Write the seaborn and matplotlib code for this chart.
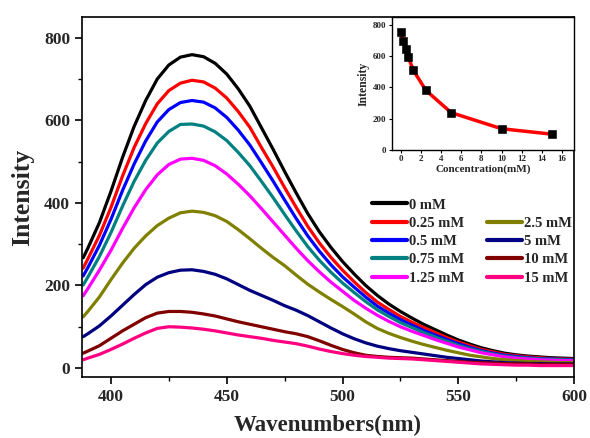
import numpy as np
import pandas as pd
import matplotlib
matplotlib.use("Agg")
import matplotlib.pyplot as plt
from matplotlib.lines import Line2D
from matplotlib.ticker import MultipleLocator
import seaborn as sns

wavelengths = [388, 390, 395, 400, 405, 410, 415, 420, 425, 430, 435, 440, 445, 450, 455,
               460, 465, 470, 475, 480, 485, 490, 495, 500, 505, 510, 515, 520, 525, 530,
               535, 540, 545, 550, 555, 560, 565, 570, 575, 580, 585, 590, 595, 600]

labels = ["0 mM", "0.25 mM", "0.5 mM", "0.75 mM", "1.25 mM", "2.5 mM", "5 mM", "10 mM", "15 mM"]
colors = ["#000000", "#FF0000", "#0000FF", "#008080", "#FF00FF", "#808000", "#000080", "#800000", "#FF0080"]

c0 = [267, 290, 352, 428, 510, 585, 648, 700, 734, 753,
      759, 754, 738, 712, 676, 634, 582, 530, 476, 424,
      374, 330, 292, 258, 228, 200, 176, 155, 137, 121,
      106, 93, 80, 68, 58, 49, 42, 36, 32, 29,
      27, 25, 24, 23]
c025 = [242, 264, 321, 389, 465, 534, 592, 640, 672, 690,
        697, 693, 678, 654, 621, 583, 534, 487, 437, 389,
        343, 303, 268, 237, 209, 183, 160, 142, 125, 111,
        98, 86, 74, 63, 54, 45, 39, 33, 30, 27,
        25, 23, 22, 21]
c05 = [223, 243, 297, 360, 430, 494, 550, 596, 626, 643,
       648, 644, 630, 607, 576, 540, 497, 453, 407, 362,
       320, 283, 250, 221, 196, 172, 150, 133, 117, 104,
       91, 80, 69, 59, 50, 42, 36, 31, 28, 25,
       23, 22, 21, 20]
c075 = [201, 220, 270, 328, 392, 452, 503, 545, 573, 590,
        591, 586, 572, 551, 522, 490, 452, 413, 372, 332,
        294, 261, 232, 206, 183, 161, 141, 125, 110, 98,
        86, 75, 65, 55, 47, 40, 34, 29, 26, 24,
        22, 21, 20, 19]
c125 = [175, 192, 237, 285, 338, 388, 432, 468, 493, 506,
        508, 503, 490, 470, 445, 417, 386, 354, 322, 290,
        260, 233, 208, 186, 164, 145, 128, 113, 100, 89,
        79, 69, 60, 51, 44, 37, 32, 27, 24, 22,
        20, 19, 18, 18]
c25 = [124, 137, 172, 214, 254, 290, 320, 345, 363, 376,
       380, 377, 369, 355, 335, 313, 290, 268, 248, 225,
       203, 184, 166, 149, 131, 112, 96, 84, 74, 65,
       57, 50, 43, 37, 31, 27, 23, 20, 18, 16,
       15, 14, 13, 13]
c5 = [76, 83, 102, 126, 152, 178, 202, 220, 231, 237,
      238, 234, 227, 216, 202, 188, 176, 164, 151, 140,
      127, 112, 97, 83, 71, 61, 53, 47, 42, 38,
      34, 30, 26, 23, 20, 17, 15, 13, 12, 11,
      11, 10, 10, 10]
c10 = [36, 41, 54, 72, 90, 106, 122, 133, 137, 137,
       135, 131, 126, 119, 112, 106, 100, 94, 88, 83,
       76, 66, 55, 45, 37, 31, 28, 26, 25, 24,
       22, 20, 18, 16, 14, 13, 12, 11, 10, 10,
       9, 9, 9, 9]
c15 = [20, 24, 33, 45, 58, 72, 85, 96, 100, 99,
       97, 94, 90, 85, 80, 76, 72, 67, 63, 59,
       53, 46, 40, 35, 31, 28, 26, 24, 23, 22,
       20, 18, 16, 14, 12, 10, 9, 8, 7, 7,
       6, 6, 6, 6]
series = [c0, c025, c05, c075, c125, c25, c5, c10, c15]

conc = [0, 0.25, 0.5, 0.75, 1.25, 2.5, 5, 10, 15]
peak = [755, 697, 648, 592, 508, 380, 238, 135, 100]

sns.set_theme(style="ticks")
plt.rcParams["font.family"] = ["Liberation Serif", "DejaVu Serif"]
plt.rcParams["font.weight"] = "bold"
plt.rcParams["axes.labelweight"] = "bold"

df = pd.DataFrame({
    "wl": np.tile(wavelengths, len(series)),
    "val": np.concatenate(series),
    "lab": np.repeat(labels, len(wavelengths)),
})

fig = plt.figure(figsize=(5.9, 4.38), dpi=100)
ax = fig.add_axes([0.139, 0.139, 0.834, 0.822])
sns.lineplot(data=df, x="wl", y="val", hue="lab", hue_order=labels,
             palette=colors, linewidth=2.3, ax=ax, legend=False, sort=False,
             solid_joinstyle="round", solid_capstyle="round")
ax.set_xlim(387.5, 600)
ax.set_ylim(-22, 850)
ax.xaxis.set_major_locator(MultipleLocator(50))
ax.xaxis.set_minor_locator(MultipleLocator(25))
ax.yaxis.set_major_locator(MultipleLocator(200))
ax.yaxis.set_minor_locator(MultipleLocator(100))
ax.tick_params(which="major", direction="out", length=5, width=1.2, labelsize=12.5, color="black")
ax.tick_params(which="minor", direction="out", length=3, width=1.0, color="black")
for t in ax.get_xticklabels() + ax.get_yticklabels():
    t.set_fontweight("bold")
for s in ax.spines.values():
    s.set_linewidth(1.2)
    s.set_color("black")
ax.set_xlabel("Wavenumbers(nm)", fontsize=16.5, fontweight="bold", labelpad=7)
ax.set_ylabel("Intensity", fontsize=18.5, fontweight="bold", labelpad=7)

handles = [Line2D([], [], color=c, lw=3) for c in colors]
blank = Line2D([], [], color="none", lw=0)
h_order = handles[:5] + [blank] + handles[5:]
l_order = labels[:5] + [""] + labels[5:]
leg = ax.legend(h_order, l_order, ncol=2, frameon=False, loc="upper left",
                bbox_to_anchor=(0.563, 0.533), handlelength=2.4, handletextpad=0.1,
                columnspacing=1.6, labelspacing=0.35,
                prop={"family": "Liberation Serif", "weight": "bold", "size": 10.5})

ins = fig.add_axes([0.664, 0.658, 0.309, 0.303])
sns.lineplot(x=conc, y=peak, color="#FF0000", linewidth=2.5, ax=ins)
sns.scatterplot(x=conc, y=peak, color="black", marker="s", s=28, edgecolor="black", ax=ins, zorder=5)
ins.set_xlim(-0.9, 17.2)
ins.set_ylim(0, 850)
ins.xaxis.set_major_locator(MultipleLocator(2))
ins.yaxis.set_major_locator(MultipleLocator(200))
ins.tick_params(direction="out", length=2.5, width=0.8, labelsize=6.5, pad=1.5, color="black")
for t in ins.get_xticklabels() + ins.get_yticklabels():
    t.set_fontweight("bold")
for s in ins.spines.values():
    s.set_linewidth(1.0)
    s.set_color("black")
ins.set_xlabel("Concentration(mM)", fontsize=8, fontweight="bold", labelpad=1)
ins.set_ylabel("Intensity", fontsize=8.5, fontweight="bold", labelpad=2)

fig.savefig("out.png", dpi=100)
